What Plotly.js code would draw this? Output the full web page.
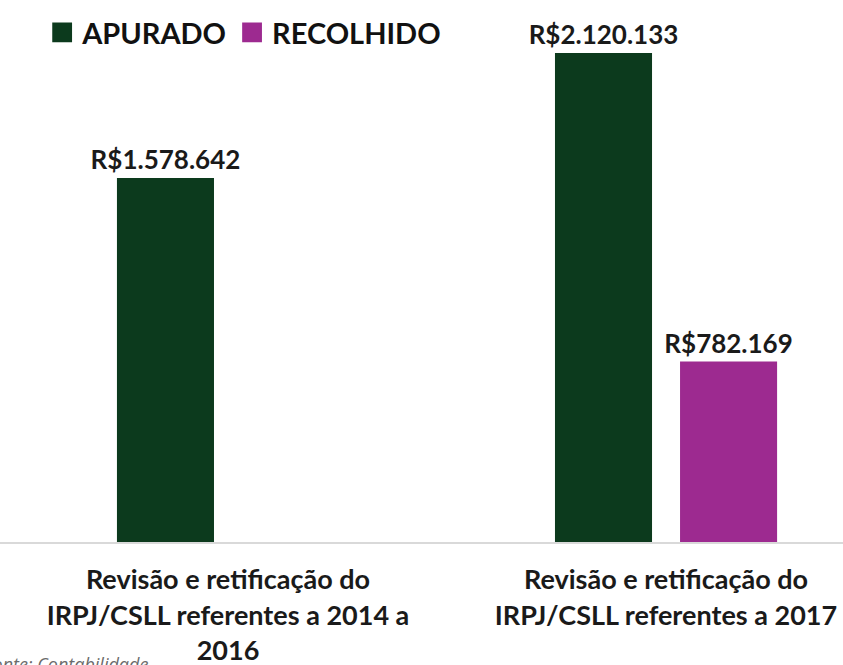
<!DOCTYPE html>
<html>
<head>
<meta charset="utf-8">
<script src="https://cdn.plot.ly/plotly-3.0.1.min.js"></script>
<style>html,body{margin:0;padding:0;background:#fff;}#chart{width:843px;height:665px;}</style>
</head>
<body>
<div id="chart"></div>
<script>
var categories = ['Revisão e retificação do<br>IRPJ/CSLL referentes a 2014 a<br>2016', 'Revisão e retificação do<br>IRPJ/CSLL referentes a 2017'];
var catKeys = ['2014-2016', '2017'];
var apurado = [1578642, 2120133];
var recolhido = [null, 782169];
var seriesNames = ['APURADO', 'RECOLHIDO'];
var sourceNote = 'Fonte: Contabilidade';

var FONT = 'Lato, "Open Sans", sans-serif';
var colors = ['#0c3a1d', '#9d2a90'];

var traces = [apurado, recolhido].map(function (vals, i) {
  return {
    type: 'bar',
    name: seriesNames[i],
    x: catKeys,
    y: vals,
    marker: {color: colors[i]},
    texttemplate: 'R$%{y:,.0f}',
    textposition: 'outside',
    constraintext: 'none',
    cliponaxis: false,
    textfont: {family: FONT, size: 26, color: '#1a1a1a', weight: 'bold'},
    hoverinfo: 'skip'
  };
});

var layout = {
  width: 843, height: 665,
  margin: {l: 0, r: 0, t: 0, b: 123},
  paper_bgcolor: '#ffffff', plot_bgcolor: '#ffffff',
  separators: ',.',
  barmode: 'group',
  bargap: 0.429,
  bargroupgap: 0.224,
  showlegend: true,
  legend: {
    orientation: 'h', x: 0.05, xanchor: 'left', y: 0.987, yanchor: 'top',
    font: {family: FONT, size: 29, color: '#111', weight: 'bold'},
    itemclick: false, itemdoubleclick: false, traceorder: 'normal'
  },
  xaxis: {
    type: 'category',
    range: [-0.5205, 1.404],
    tickmode: 'array', tickvals: catKeys, ticktext: categories,
    tickfont: {family: FONT, size: 27, color: '#1a1a1a', weight: 'bold'},
    ticks: '', ticklabelstandoff: 13,
    showline: true, linecolor: '#d9d9d9', linewidth: 2,
    showgrid: false, zeroline: false, fixedrange: true
  },
  yaxis: {
    range: [0, 2350000],
    showticklabels: false, showgrid: false, zeroline: false, showline: false,
    fixedrange: true
  },
  annotations: [{
    text: sourceNote, xref: 'paper', yref: 'paper',
    x: 150 / 843, xanchor: 'right', y: -0.225, yanchor: 'middle',
    showarrow: false,
    font: {family: '"Open Sans", sans-serif', size: 18, color: '#6b6b6b', style: 'italic'}
  }]
};

Plotly.newPlot('chart', traces, layout, {displayModeBar: false, staticPlot: true}).then(function (gd) {
  // enlarge legend swatches to match the reference's bigger squares
  gd.querySelectorAll('.legend .legendpoints path').forEach(function (p) {
    var t = p.getAttribute('transform') || '';
    p.setAttribute('transform', t + ' scale(1.65)');
  });
});
</script>
</body>
</html>
